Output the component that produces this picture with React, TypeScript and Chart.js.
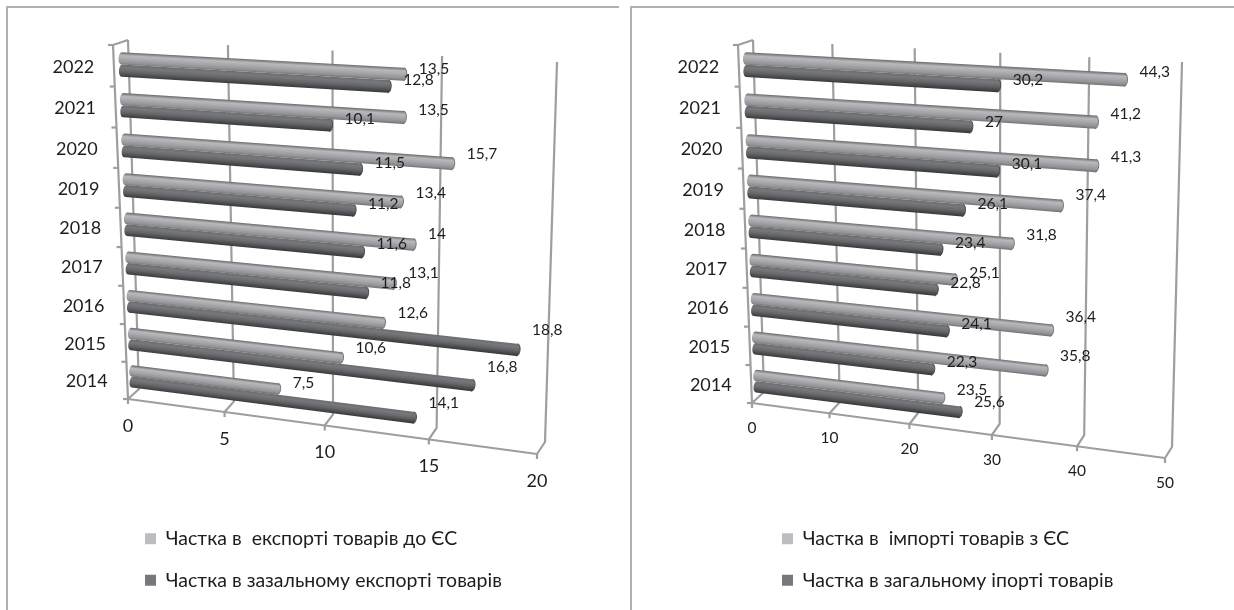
import React, { useEffect, useRef } from "react";
import { Chart, registerables } from "chart.js";

Chart.register(...registerables);

const years = ["2022", "2021", "2020", "2019", "2018", "2017", "2016", "2015", "2014"];
const exportEU = [13.5, 13.5, 15.7, 13.4, 14, 13.1, 12.6, 10.6, 7.5];
const exportTotal = [12.8, 10.1, 11.5, 11.2, 11.6, 11.8, 18.8, 16.8, 14.1];
const importEU = [44.3, 41.2, 41.3, 37.4, 31.8, 25.1, 36.4, 35.8, 23.5];
const importTotal = [30.2, 27, 30.1, 26.1, 23.4, 22.8, 24.1, 22.3, 25.6];

// vertical nudges of the value labels, relative to the end of their bar
const exportEUNudge = [-6, -8, -11, -10, -12, -12, -11, -11, -7];
const exportTotalNudge = [-7, -7, -7, -7, -9, -11, -21, -19, -16];
const importEUNudge = [-9, -9, -10, -12, -10, -8, -14, -15, -9];
const importTotalNudge = [-7, -6, -8, -7, -8, -8, -8, -8, -11];

const LIGHT = "#bdbdc1";
const DARK = "#77787b";
const INK = "#1f1c1d";
const GRID = "#9e9e9e";
const FAMILY = "Lato, 'Open Sans', sans-serif";

type P = [number, number];
function homography(p0: P, p1: P, p2: P, p3: P) {
  const [x0, y0] = p0, [x1, y1] = p1, [x2, y2] = p2, [x3, y3] = p3;
  const dx1 = x1 - x2, dx2 = x3 - x2, sx = x0 - x1 + x2 - x3;
  const dy1 = y1 - y2, dy2 = y3 - y2, sy = y0 - y1 + y2 - y3;
  const den = dx1 * dy2 - dx2 * dy1;
  const g = (sx * dy2 - dx2 * sy) / den;
  const h = (dx1 * sy - sx * dy1) / den;
  const a = x1 - x0 + g * x1, b = x3 - x0 + h * x3, c = x0;
  const d = y1 - y0 + g * y1, e = y3 - y0 + h * y3, f = y0;
  return (u: number, v: number): P => {
    const w = g * u + h * v + 1;
    return [(a * u + b * v + c) / w, (d * u + e * v + f) / w];
  };
}

function shade(hex: string, k: number) {
  const n = parseInt(hex.slice(1), 16);
  const c = (s: number) => Math.max(0, Math.min(255, Math.round(((n >> s) & 255) * k)));
  return `rgb(${c(16)},${c(8)},${c(0)})`;
}
const lightStops: [number, number][] = [[0, 0.56], [0.08, 0.7], [0.25, 0.98], [0.5, 0.9], [0.8, 0.78], [1, 0.6]];
const darkStops: [number, number][] = [[0, 0.9], [0.25, 1.0], [0.55, 0.85], [0.85, 0.58], [1, 0.45]];

function drawBar(ctx: CanvasRenderingContext2D, H: any, u0: number, u1: number, v0: number, v1: number, base: string, stops: [number, number][]) {
  const a = H(u0, v0), b = H(u1, v0), c = H(u1, v1), d = H(u0, v1);
  const dirx = b[0] - a[0], diry = b[1] - a[1];
  const len = Math.hypot(dirx, diry) || 1;
  const nx = -diry / len, ny = dirx / len;
  const thick = (c[1] - b[1]) * ny + (c[0] - b[0]) * nx;
  const g = ctx.createLinearGradient(b[0], b[1], b[0] + nx * thick, b[1] + ny * thick);
  stops.forEach(([s, k]) => g.addColorStop(s, shade(base, k)));
  const angle = Math.atan2(diry, dirx);
  const rL = Math.hypot(d[0] - a[0], d[1] - a[1]) / 2;
  const rR = Math.hypot(c[0] - b[0], c[1] - b[1]) / 2;
  ctx.save();
  ctx.fillStyle = g;
  ctx.beginPath();
  ctx.ellipse((a[0] + d[0]) / 2, (a[1] + d[1]) / 2, 3, rL, angle, Math.PI / 2, (3 * Math.PI) / 2);
  ctx.lineTo(b[0], b[1]);
  ctx.ellipse((b[0] + c[0]) / 2, (b[1] + c[1]) / 2, 3, rR, angle, -Math.PI / 2, Math.PI / 2);
  ctx.closePath();
  ctx.fill();
  ctx.strokeStyle = shade(base, 0.62);
  ctx.lineWidth = 1;
  ctx.beginPath();
  ctx.ellipse((b[0] + c[0]) / 2, (b[1] + c[1]) / 2, 3, rR, angle, -Math.PI / 2, Math.PI / 2);
  ctx.stroke();
  ctx.restore();
}

function makePlugin(cfg: any) {
  const Hb = homography(...(cfg.back as [P, P, P, P]));
  const Hf = homography(...(cfg.front as [P, P, P, P]));
  const Hm = homography(...(cfg.mid as [P, P, P, P]));
  return {
    id: "perspective3d",
    beforeDatasetsDraw(chart: any) {
      const ctx: CanvasRenderingContext2D = chart.ctx;
      const xs = chart.scales.x, ys = chart.scales.y;
      const n = years.length;
      ctx.save();
      ctx.strokeStyle = GRID;
      ctx.lineWidth = 2.2;
      ctx.lineJoin = "round";
      const line = (pts: P[]) => {
        ctx.beginPath();
        pts.forEach((p, i) => (i ? ctx.lineTo(p[0], p[1]) : ctx.moveTo(p[0], p[1])));
        ctx.stroke();
      };
      const uOf = (v: number) => (xs.getPixelForValue(v) - xs.left) / (xs.right - xs.left);
      xs.ticks.forEach((t: any) => {
        const u = uOf(t.value);
        const f = Hf(u, 1);
        line([Hb(u, 0), Hb(u, 1), f, [f[0], f[1] + 5]]);
        ctx.save();
        ctx.fillStyle = INK;
        ctx.font = `${cfg.tickSize}px ${FAMILY}`;
        ctx.textAlign = "center";
        ctx.textBaseline = "middle";
        ctx.fillText(String(t.label), f[0], f[1] + cfg.tickGap);
        ctx.restore();
      });
      line([Hf(0, 1), Hf(1, 1)]);
      line([Hb(0, 0), Hf(0, 0), Hf(0, 1)]);
      for (let i = 0; i <= n; i++) {
        const p = Hf(0, i / n);
        line([p, [p[0] - 5, p[1]]]);
      }
      ys.ticks.forEach((t: any, i: number) => {
        const v = (ys.getPixelForTick(i) - ys.top) / (ys.bottom - ys.top);
        const p = Hf(0, v);
        ctx.save();
        ctx.fillStyle = INK;
        ctx.font = `18px ${FAMILY}`;
        ctx.textAlign = "center";
        ctx.textBaseline = "middle";
        ctx.fillText(String(t.label), p[0] - 40.5, p[1] + 1);
        ctx.restore();
      });
      ctx.restore();
    },
    beforeDatasetDraw(chart: any, args: any) {
      const ctx: CanvasRenderingContext2D = chart.ctx;
      const ca = chart.chartArea;
      const ds = chart.data.datasets[args.index];
      args.meta.data.forEach((el: any) => {
        const u0 = (el.base - ca.left) / ca.width;
        const u1 = (el.x - ca.left) / ca.width;
        const v0 = (el.y - el.height / 2 - ca.top) / ca.height;
        const v1 = (el.y + el.height / 2 - ca.top) / ca.height;
        drawBar(ctx, Hm, u0, u1, v0, v1, ds.backgroundColor, args.index === 0 ? lightStops : darkStops);
      });
      return false;
    },
    afterDatasetsDraw(chart: any) {
      const ctx: CanvasRenderingContext2D = chart.ctx;
      const ca = chart.chartArea;
      ctx.save();
      ctx.fillStyle = INK;
      ctx.font = `15.5px ${FAMILY}`;
      ctx.textAlign = "left";
      ctx.textBaseline = "middle";
      chart.data.datasets.forEach((ds: any, di: number) => {
        const meta = chart.getDatasetMeta(di);
        meta.data.forEach((el: any, i: number) => {
          const p = Hm((el.x - ca.left) / ca.width, (el.y - ca.top) / ca.height);
          ctx.fillText(String(ds.data[i]).replace(".", ","), p[0] + 15, p[1] + cfg.nudges[di][i] + 1);
        });
      });
      ctx.restore();
    },
  };
}

const leftCfg = {
  tickSize: 18,
  tickGap: 27,
  nudges: [exportEUNudge, exportTotalNudge],
  back: [[128, 40], [557, 62], [545, 442], [139, 389]],
  front: [[113, 45], [549, 74], [537, 454], [128, 399]],
  mid: [[121, 44], [553, 67], [541, 448], [133, 395]],
};
const rightCfg = {
  tickSize: 15.5,
  tickGap: 25,
  nudges: [importEUNudge, importTotalNudge],
  back: [[133, 40], [562, 62], [552, 447], [144, 392]],
  front: [[118, 45], [554, 72], [545, 458], [132, 403]],
  mid: [[125.5, 44], [558, 67], [548.5, 452.5], [137, 400]],
};

function Panel(props: any) {
  const ref = useRef<HTMLCanvasElement>(null);
  useEffect(() => {
    const chart = new Chart(ref.current as HTMLCanvasElement, {
      type: "bar",
      data: {
        labels: years,
        datasets: [
          { label: props.labels[0], data: props.a, backgroundColor: LIGHT, borderWidth: 0 },
          { label: props.labels[1], data: props.b, backgroundColor: DARK, borderWidth: 0 },
        ],
      },
      options: {
        indexAxis: "y",
        animation: false,
        responsive: false,
        devicePixelRatio: 1,
        categoryPercentage: 0.6,
        barPercentage: 1,
        layout: { padding: { left: props.legendLeft, bottom: 10 } },
        scales: {
          x: { display: false, min: 0, max: props.max, ticks: { stepSize: props.step } },
          y: { display: false },
        },
        plugins: {
          tooltip: { enabled: false },
          legend: {
            position: "bottom",
            align: "start",
            labels: {
              boxWidth: 11,
              boxHeight: 11,
              padding: 22,
              color: INK,
              font: { family: FAMILY, size: 19.5 },
            },
          },
        },
      } as any,
      plugins: [makePlugin(props.cfg)],
    } as any);
    return () => chart.destroy();
  }, []);
  return (
    <canvas
      ref={ref}
      width={props.w}
      height={610}
      style={{ position: "absolute", left: props.x, top: 0, width: props.w, height: 610, display: "block" }}
    />
  );
}

export default function App() {
  const rule = "#b0b0b0";
  return (
    <div style={{ position: "fixed", left: 0, top: 0, width: 1234, height: 610, background: "#fff", overflow: "hidden" }}>
      <Panel x={0} w={620} a={exportEU} b={exportTotal} max={20} step={5} cfg={leftCfg} legendLeft={123}
        labels={["Частка в  експорті товарів до ЄС", "Частка в зазальному експорті товарів"]} />
      <Panel x={620} w={614} a={importEU} b={importTotal} max={50} step={10} cfg={rightCfg} legendLeft={140}
        labels={["Частка в  імпорті товарів з ЄС", "Частка в загальному іпорті товарів"]} />
      <div style={{ position: "absolute", left: 6, top: 6, width: 611, height: 604, borderTop: `2px solid ${rule}`, borderLeft: `2px solid ${rule}` }} />
      <div style={{ position: "absolute", left: 630, top: 6, width: 604, height: 604, borderTop: `2px solid ${rule}`, borderLeft: `2px solid ${rule}` }} />
    </div>
  );
}
